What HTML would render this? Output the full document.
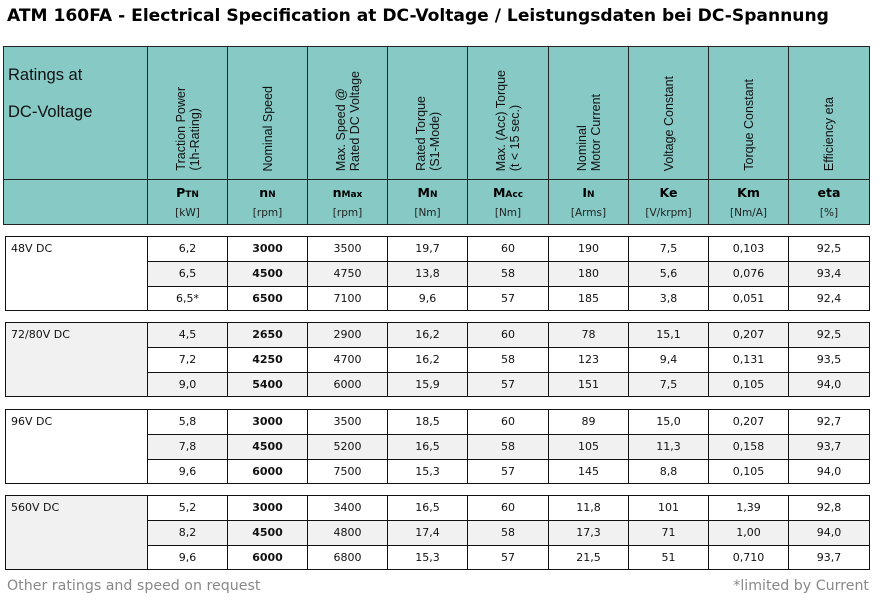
<!DOCTYPE html>
<html><head><meta charset="utf-8">
<style>
body{margin:0;width:882px;height:611px;background:#fff;position:relative;overflow:hidden;font-family:"DejaVu Sans",Verdana,sans-serif;}
.a{position:absolute;box-sizing:border-box;}
.title{left:7px;top:6px;font-weight:bold;font-size:17.1px;color:#000;white-space:nowrap;}
.hd{background:#86c9c5;border:1px solid #222;}
.cell{border:1px solid #111;font-size:11px;text-align:center;line-height:24px;color:#111;}
.rot{position:absolute;bottom:8px;left:0;width:100%;display:flex;justify-content:center;}
.rot span{writing-mode:vertical-rl;transform:rotate(180deg);font-family:"Liberation Sans",Arial,sans-serif;font-size:12.5px;line-height:14px;color:#111;text-align:left;}
.sym{position:absolute;top:5px;width:100%;text-align:center;font-weight:bold;font-size:12.5px;}
.sym sub{font-size:9px;vertical-align:baseline;}
.unit{position:absolute;top:27px;width:100%;text-align:center;font-size:10.5px;color:#222;}
.foot{font-size:14.2px;color:#888;white-space:nowrap;}
</style></head><body>
<div class="a title">ATM 160FA - Electrical Specification at DC-Voltage / Leistungsdaten bei DC-Spannung</div>
<div id="t"></div>
<div class="a foot" style="left:7px;top:578px;">Other ratings and speed on request</div>
<div class="a foot" style="right:13px;top:578px;">*limited by Current</div>
<script>
var xs=[3,147,227,307,387,467,548,628,708,788,869];
var h='';
h+='<div class="a hd" style="left:3px;top:46px;width:145px;height:134px;"><div style="position:absolute;left:4px;top:10px;font-family:\'Liberation Sans\',Arial,sans-serif;font-size:16.5px;line-height:37px;color:#111">Ratings at<br>DC-Voltage</div></div>';
h+='<div class="a hd" style="left:3px;top:179px;width:145px;height:46px;"></div>';
var hl=['Traction Power<br>(1h-Rating)','Nominal Speed','Max. Speed @<br>Rated DC Voltage','Rated Torque<br>(S1-Mode)','Max. (Acc) Torque<br>(t &lt; 15 sec.)','Nominal<br>Motor Current','Voltage Constant','Torque Constant','Efficiency eta'];
var sy=['P<sub>TN</sub>','n<sub>N</sub>','n<sub>Max</sub>','M<sub>N</sub>','M<sub>Acc</sub>','I<sub>N</sub>','Ke','Km','eta'];
var un=['[kW]','[rpm]','[rpm]','[Nm]','[Nm]','[Arms]','[V/krpm]','[Nm/A]','[%]'];
for(var i=0;i<9;i++){var x=xs[i+1],w=xs[i+2]-x+1;
h+='<div class="a hd" style="left:'+x+'px;top:46px;width:'+w+'px;height:134px;"><div class="rot"><span>'+hl[i]+'</span></div></div>';
h+='<div class="a hd" style="left:'+x+'px;top:179px;width:'+w+'px;height:46px;"><div class="sym">'+sy[i]+'</div><div class="unit">'+un[i]+'</div></div>';}
var g=[
['48V DC',236,0,[['6,2','3000','3500','19,7','60','190','7,5','0,103','92,5'],['6,5','4500','4750','13,8','58','180','5,6','0,076','93,4'],['6,5*','6500','7100','9,6','57','185','3,8','0,051','92,4']],[0,1,0]],
['72/80V DC',322,1,[['4,5','2650','2900','16,2','60','78','15,1','0,207','92,5'],['7,2','4250','4700','16,2','58','123','9,4','0,131','93,5'],['9,0','5400','6000','15,9','57','151','7,5','0,105','94,0']],[1,0,1]],
['96V DC',409,0,[['5,8','3000','3500','18,5','60','89','15,0','0,207','92,7'],['7,8','4500','5200','16,5','58','105','11,3','0,158','93,7'],['9,6','6000','7500','15,3','57','145','8,8','0,105','94,0']],[0,1,0]],
['560V DC',495,1,[['5,2','3000','3400','16,5','60','11,8','101','1,39','92,8'],['8,2','4500','4800','17,4','58','17,3','71','1,00','94,0'],['9,6','6000','6800','15,3','57','21,5','51','0,710','93,7']],[0,1,0]]];
g.forEach(function(G){var y0=G[1];
h+='<div class="a cell" style="left:5px;top:'+y0+'px;width:143px;height:75px;text-align:left;padding-left:5px;background:'+(G[2]?'#f1f1f1':'#fff')+'">'+G[0]+'</div>';
for(var r=0;r<3;r++){var y=y0+r*25;
for(var i=0;i<9;i++){var x=xs[i+1],w=xs[i+2]-x+1;
h+='<div class="a cell" style="left:'+x+'px;top:'+y+'px;width:'+w+'px;height:'+(r==2?25:26)+'px;background:'+(G[4][r]?'#f1f1f1':'#fff')+';'+(i==1?'font-weight:bold;':'')+'">'+G[3][r][i]+'</div>';}}});
document.getElementById('t').innerHTML=h;
</script>
</body></html>
